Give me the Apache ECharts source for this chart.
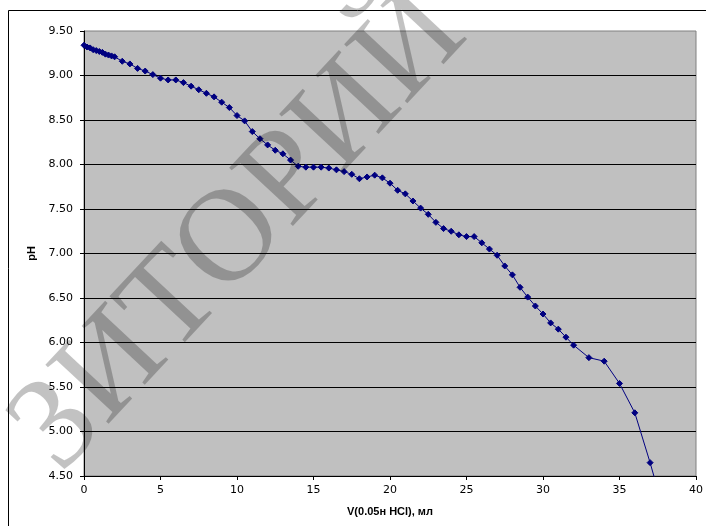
<!DOCTYPE html>
<html>
<head>
<meta charset="utf-8">
<script src="https://cdn.jsdelivr.net/npm/echarts@6/dist/echarts.min.js"></script>
<style>html,body{margin:0;padding:0;background:#fff;}#c{width:706px;height:526px;}</style>
</head>
<body>
<div id="c"></div>
<script>
// Titration data: volume of 0.05N HCl (ml) vs pH
const volume = [0, 0.2, 0.4, 0.6, 0.8, 1.0, 1.2, 1.4, 1.6, 1.8, 2.0,
  2.5, 3, 3.5, 4, 4.5, 5, 5.5, 6, 6.5, 7, 7.5, 8, 8.5, 9, 9.5, 10,
  10.5, 11, 11.5, 12, 12.5, 13, 13.5, 14, 14.5, 15, 15.5, 16, 16.5, 17,
  17.5, 18, 18.5, 19, 19.5, 20, 20.5, 21, 21.5, 22, 22.5, 23, 23.5, 24,
  24.5, 25, 25.5, 26, 26.5, 27, 27.5, 28, 28.5, 29, 29.5, 30, 30.5, 31,
  31.5, 32, 33, 34, 35, 36, 37, 38];
const pH = [9.34, 9.32, 9.31, 9.29, 9.28, 9.27, 9.26, 9.24, 9.23, 9.22, 9.21,
  9.16, 9.13, 9.08, 9.05, 9.01, 8.97, 8.95, 8.95, 8.92, 8.88, 8.84, 8.80, 8.76, 8.70, 8.64, 8.55,
  8.49, 8.37, 8.29, 8.22, 8.16, 8.12, 8.05, 7.98, 7.97, 7.97, 7.97, 7.96, 7.94, 7.92,
  7.89, 7.84, 7.86, 7.88, 7.85, 7.79, 7.71, 7.67, 7.59, 7.51, 7.44, 7.35, 7.28, 7.25,
  7.21, 7.19, 7.19, 7.12, 7.05, 6.98, 6.86, 6.76, 6.62, 6.51, 6.41, 6.32, 6.22, 6.15,
  6.06, 5.97, 5.83, 5.79, 5.54, 5.21, 4.65, 4.04];
const xTitle = 'V(0.05н HCl), мл';
const yTitle = 'pH';
const watermark = 'ЗИТОРИЙ';

const chart = echarts.init(document.getElementById('c'), null, {renderer: 'canvas'});
const points = volume.map((v, i) => [v, pH[i]]);
chart.setOption({
  animation: false,
  backgroundColor: '#ffffff',
  grid: {
    left: 84, top: 31, width: 612, height: 445,
    show: true, backgroundColor: '#C0C0C0', borderColor: '#808080', borderWidth: 1
  },
  xAxis: {
    type: 'value', min: 0, max: 40, interval: 5,
    name: xTitle, nameLocation: 'middle', nameGap: 30,
    nameTextStyle: {fontFamily: 'Liberation Sans', fontWeight: 'bold', fontSize: 11, color: '#000'},
    axisLine: {show: true, lineStyle: {color: '#000', width: 1}},
    axisTick: {show: true, inside: false, length: 4, lineStyle: {color: '#000'}},
    axisLabel: {fontFamily: 'DejaVu Sans', fontSize: 11, color: '#000', margin: 9},
    splitLine: {show: false}
  },
  yAxis: {
    type: 'value', min: 4.5, max: 9.5, interval: 0.5,
    name: yTitle, nameLocation: 'middle', nameGap: 47, nameRotate: 90,
    nameTextStyle: {fontFamily: 'Liberation Sans', fontWeight: 'bold', fontSize: 11, color: '#000'},
    axisLine: {show: true, lineStyle: {color: '#000', width: 1}},
    axisTick: {show: true, inside: false, length: 4, lineStyle: {color: '#000'}},
    axisLabel: {fontFamily: 'DejaVu Sans', fontSize: 11, color: '#000', margin: 11,
      formatter: v => v.toFixed(2)},
    splitLine: {show: true, showMinLine: false, showMaxLine: false, lineStyle: {color: '#000', width: 1}}
  },
  series: [{
    type: 'line',
    data: points,
    clip: true,
    symbol: 'diamond',
    symbolSize: 6,
    showSymbol: true,
    lineStyle: {color: '#000080', width: 1},
    itemStyle: {color: '#000080', borderColor: '#000080', borderWidth: 1},
    z: 3
  }],
  graphic: [
    {
      type: 'rect', z: 100, silent: true,
      shape: {x: 8.5, y: 10.5, width: 900, height: 800},
      style: {fill: null, stroke: '#000', lineWidth: 1}
    },
    {
      type: 'text', z: 50, silent: true,
      x: 240, y: 232, rotation: 47 * Math.PI / 180,
      style: {
        text: watermark, fontFamily: 'Liberation Serif', fontWeight: 'normal', fontSize: 132,
        fill: 'rgba(0,0,0,0.24)', align: 'center', verticalAlign: 'middle'
      }
    }
  ]
});
</script>
</body>
</html>
